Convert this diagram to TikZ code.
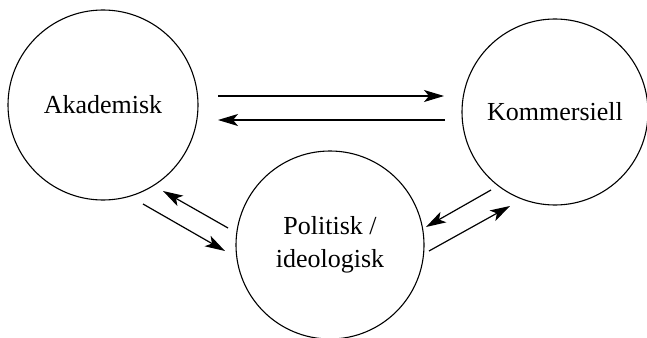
\documentclass[tikz,border=0pt]{standalone}
\usepackage{fontspec}
\setmainfont{Liberation Serif}
\usetikzlibrary{arrows.meta}
\begin{document}
\begin{tikzpicture}[x=1pt,y=-1pt,
  circ/.style={circle,draw,line width=1.1pt,inner sep=0pt,font=\fontsize{26}{33}\selectfont,align=center},
  conn/.style={line width=1.2pt,-{Stealth[length=20pt,width=12pt,inset=5pt]}}]
\useasboundingbox (0,0) rectangle (647,337);
\node[circ,minimum size=190pt] (ak) at (103,105) {Akademisk};
\node[circ,minimum size=186pt] (ko) at (555,112) {Kommersiell};
\node[circ,minimum size=188pt] (po) at (330,245) {Politisk /\\ideologisk};
\coordinate (t1s) at (218,96);  \coordinate (t1e) at (444,96);
\coordinate (t2s) at (445,120); \coordinate (t2e) at (218,120);
\coordinate (l1s) at (143,204); \coordinate (l1e) at (225,251);
\coordinate (l2s) at (228,228); \coordinate (l2e) at (163,191);
\coordinate (r1s) at (491,190); \coordinate (r1e) at (426,227);
\coordinate (r2s) at (429,251); \coordinate (r2e) at (510,206);
\draw[conn] (t1s) -- (t1e);
\draw[conn] (t2s) -- (t2e);
\draw[conn] (l1s) -- (l1e);
\draw[conn] (l2s) -- (l2e);
\draw[conn] (r1s) -- (r1e);
\draw[conn] (r2s) -- (r2e);
\end{tikzpicture}
\end{document}
